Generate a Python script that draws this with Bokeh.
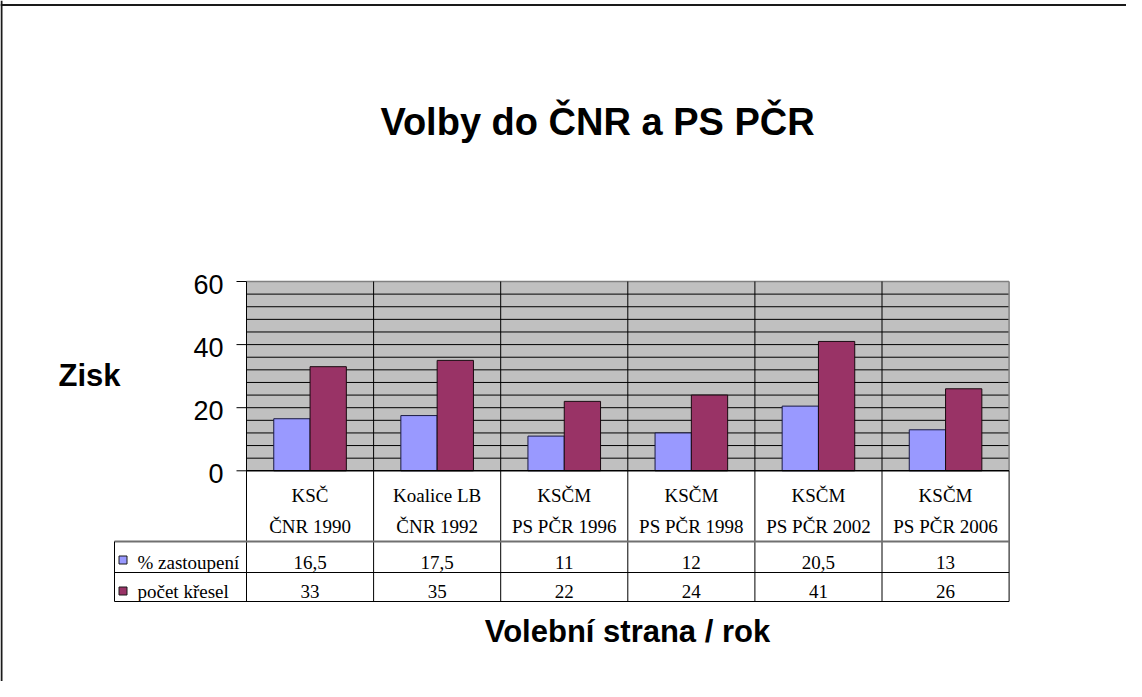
import numpy as np
from bokeh.plotting import figure
from bokeh.models import Range1d, ColumnDataSource
from bokeh.transform import dodge
from bokeh.core.properties import value
from bokeh.embed import file_html
from bokeh.resources import INLINE

# ---- data ----
parties = ["KSČ", "Koalice LB", "KSČM", "KSČM", "KSČM", "KSČM"]
elections = ["ČNR 1990", "ČNR 1992", "PS PČR 1996", "PS PČR 1998", "PS PČR 2002", "PS PČR 2006"]
pct_share = [16.5, 17.5, 11, 12, 20.5, 13]
seats = [33, 35, 22, 24, 41, 26]
series_names = ["% zastoupení", "počet křesel"]
y_ticks = [0, 20, 40, 60]
title_text = "Volby do ČNR a PS PČR"
y_title = "Zisk"
x_title = "Volební strana / rok"

BLUE = "#9999ff"
RED = "#993366"
GRAY_BG = "#c0c0c0"
SANS = value("Liberation Sans")
SERIF = value("Liberation Serif")

# ---- layout helpers (page pixels -> data units) ----
PX0, CW = 254.0, 127.1      # left edge of first category, px per category
PY0, YS = 478.3, 3.155      # pixel of y=0, px per unit


def X(px):
    return (px - PX0) / CW


def Y(py):
    return (PY0 - py) / YS


W, H = 1126, 681
p = figure(width=W, height=H, x_axis_type=None, y_axis_type=None,
           x_range=Range1d(X(8), X(8 + W)), y_range=Range1d(Y(8 + H), Y(8)),
           output_backend="svg", toolbar_location=None, min_border=0)
p.outline_line_color = None
p.background_fill_color = "white"
p.border_fill_color = "white"

n = len(parties)
ymax = y_ticks[-1]

# chart outer border (top/left)
p.segment(x0=[X(9), X(8)], y0=[Y(8), Y(12.5)], x1=[X(9), X(8 + W)], y1=[Y(8 + H), Y(12.5)],
          line_color="#1a1a1a", line_width=2)

# plot area background
p.quad(left=[0], right=[n], bottom=[0], top=[ymax], fill_color=GRAY_BG, line_color=None)

# horizontal grid lines every 4 units
gy = np.arange(4, ymax, 4)
p.segment(x0=np.zeros(len(gy)), x1=np.full(len(gy), n), y0=gy, y1=gy,
          line_color="black", line_width=1)
# top / right border of plot area
p.segment(x0=[0, n], y0=[ymax, 0], x1=[n, n], y1=[ymax, ymax], line_color="#808080", line_width=1.5)

# vertical category boundaries (through the plot area and data table)
bx = np.arange(0, n)
p.segment(x0=bx, x1=bx, y0=np.full(n, Y(609)), y1=np.full(n, ymax), line_color="black", line_width=1)
p.segment(x0=[n], x1=[n], y0=[Y(609)], y1=[0], line_color="black", line_width=1)

# bars
src = ColumnDataSource(dict(x=np.arange(n) + 0.5, pct=pct_share, seats=seats))
bw = 0.2856
p.vbar(x=dodge("x", -bw / 2, range=p.x_range), top="pct", width=bw, bottom=0, source=src,
       fill_color=BLUE, line_color="#1a1a40", line_width=1)
p.vbar(x=dodge("x", bw / 2, range=p.x_range), top="seats", width=bw, bottom=0, source=src,
       fill_color=RED, line_color="#1a0a10", line_width=1)

# x axis line
p.segment(x0=[0], x1=[n], y0=[0], y1=[0], line_color="black", line_width=1.5)

# y ticks and labels
p.segment(x0=np.full(len(y_ticks), X(244)), x1=np.zeros(len(y_ticks)), y0=y_ticks, y1=y_ticks,
          line_color="black", line_width=1)
p.text(x=np.full(len(y_ticks), X(231)), y=y_ticks, text=[str(t) for t in y_ticks],
       text_font=SANS, text_font_size="27px", text_align="right", text_baseline="middle",
       y_offset=3, text_color="black")

# data table lines
p.segment(x0=[X(122), X(122), X(122)], x1=[n, n, n], y0=[Y(549), Y(580), Y(609)],
          y1=[Y(549), Y(580), Y(609)], line_color=["#707070", "black", "black"],
          line_width=[2, 1, 1])
p.segment(x0=[X(122)], x1=[X(122)], y0=[Y(549)], y1=[Y(609)], line_color="black", line_width=1)

# table header text
cx = np.arange(n) + 0.5
p.text(x=cx, y=np.full(n, Y(503)), text=parties, text_font=SERIF, text_font_size="19px",
       text_align="center", text_baseline="middle", text_color="black")
p.text(x=cx, y=np.full(n, Y(534.3)), text=elections, text_font=SERIF, text_font_size="19px",
       text_align="center", text_baseline="middle", text_color="black")


def fmt(v):
    s = ("%g" % v)
    return s.replace(".", ",")


p.text(x=cx, y=np.full(n, Y(569.6)), text=[fmt(v) for v in pct_share], text_font=SERIF,
       text_font_size="19px", text_align="center", text_baseline="middle", text_color="black")
p.text(x=cx, y=np.full(n, Y(598.6)), text=[fmt(v) for v in seats], text_font=SERIF,
       text_font_size="19px", text_align="center", text_baseline="middle", text_color="black")

# legend keys in table
p.quad(left=[X(126.5), X(126.5)], right=[X(134.5), X(134.5)],
       top=[Y(563.5), Y(594.5)], bottom=[Y(571.5), Y(602.5)],
       fill_color=[BLUE, RED], line_color="#1a1a1a", line_width=1)
p.text(x=[X(145), X(145)], y=[Y(569.6), Y(598.6)], text=series_names, text_font=SERIF,
       text_font_size="19px", text_align="left", text_baseline="middle", text_color="black")

# titles
p.text(x=[X(605)], y=[Y(129.5)], text=[title_text], text_font=SANS, text_font_style="bold",
       text_font_size="38px", text_align="center", text_baseline="middle", text_color="black")
p.text(x=[X(66)], y=[Y(383.3)], text=[y_title], text_font=SANS, text_font_style="bold",
       text_font_size="31px", text_align="left", text_baseline="middle", text_color="black")
p.text(x=[X(635)], y=[Y(638.6)], text=[x_title], text_font=SANS, text_font_style="bold",
       text_font_size="31px", text_align="center", text_baseline="middle", text_color="black")

open("out.html", "w").write(file_html(p, INLINE))
